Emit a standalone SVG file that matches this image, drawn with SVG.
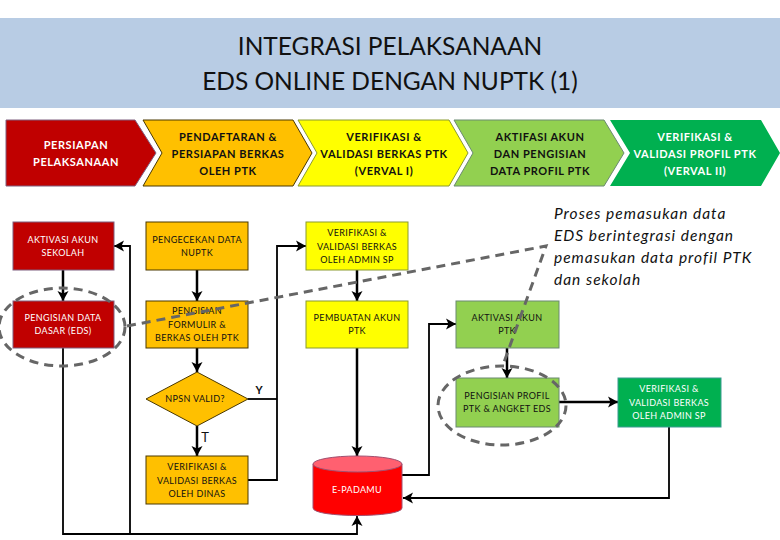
<svg xmlns="http://www.w3.org/2000/svg" width="780" height="540" viewBox="0 0 780 540">
<style>
text{font-family:Lato,"Liberation Sans",sans-serif;text-anchor:middle;fill:#111}
.h{font-size:11px;font-weight:700;letter-spacing:.55px}
.s{font-size:9px;letter-spacing:.35px}
.w{fill:#fff}
.r{fill:#c00000;stroke:#7f5f7f}
.o{fill:#ffc000;stroke:#4a3800}
.y{fill:#ffff00;stroke:#8a9a30}
.g{fill:#92d050;stroke:#6a8a70}
.e{fill:#00b050;stroke:#3a9a90}
.c{fill:none;stroke:#000;stroke-width:2.500}
.t{fill:none;stroke:#000;stroke-width:1.800}
.d{fill:none;stroke:#666;stroke-width:3;stroke-dasharray:9 6}
</style>
<defs>
<marker id="a" markerUnits="userSpaceOnUse" markerWidth="14" markerHeight="14" refX="10" refY="6" orient="auto"><path d="M0 0.500L10 6L0 11.500L2.500 6Z" fill="#000"/></marker>
</defs>
<rect id="banner" x="0" y="18" width="780" height="90" fill="#b8cce4"/>
<g id="title"><text x="390" y="55" style="font-size:24.500px">INTEGRASI PELAKSANAAN</text><text x="390" y="90" style="font-size:24.500px">EDS ONLINE DENGAN NUPTK (1)</text></g>
<g id="step1"><path class="r" d="M6 120H135L156 153L135 186H6Z"/><text class="h w" x="76" y="149">PERSIAPAN</text><text class="h w" x="76" y="166">PELAKSANAAN</text></g>
<g id="step2"><path class="o" d="M143 120H293L312 153L293 186H143L162 153Z"/><text class="h" x="228" y="141">PENDAFTARAN &amp;</text><text class="h" x="228" y="158">PERSIAPAN BERKAS</text><text class="h" x="228" y="175">OLEH PTK</text></g>
<g id="step3"><path class="y" d="M298 120H449L468 153L449 186H298L317 153Z"/><text class="h" x="384" y="141">VERIFIKASI &amp;</text><text class="h" x="384" y="158">VALIDASI BERKAS PTK</text><text class="h" x="384" y="175">(VERVAL I)</text></g>
<g id="step4"><path class="g" d="M454 120H604L624 153L604 186H454L473 153Z"/><text class="h" x="540" y="141">AKTIFASI AKUN</text><text class="h" x="540" y="158">DAN PENGISIAN</text><text class="h" x="540" y="175">DATA PROFIL PTK</text></g>
<g id="step5"><path d="M610 120H761L780 153L761 186H610L630 153Z" fill="#00b050"/><text class="h w" x="695" y="141">VERIFIKASI &amp;</text><text class="h w" x="695" y="158">VALIDASI PROFIL PTK</text><text class="h w" x="695" y="175">(VERVAL II)</text></g>
<g id="connectors">
<path class="c" d="M63 270V301" marker-end="url(#a)"/>
<path class="t" d="M63 348V534H357V516" marker-end="url(#a)"/>
<path class="t" d="M130 534V246H114" marker-end="url(#a)"/>
<path class="c" d="M197 270V301" marker-end="url(#a)"/>
<path class="c" d="M197 348V372" marker-end="url(#a)"/>
<path class="c" d="M197 426V456" marker-end="url(#a)"/>
<path class="t" d="M248 399H277"/>
<path class="t" d="M248 480H277V246H306" marker-end="url(#a)"/>
<path class="c" d="M357 270V301" marker-end="url(#a)"/>
<path class="c" d="M357 348V456" marker-end="url(#a)"/>
<path class="t" d="M402 475H429V324H456" marker-end="url(#a)"/>
<path class="c" d="M507 348V378" marker-end="url(#a)"/>
<path class="c" d="M559 402H618" marker-end="url(#a)"/>
<path class="t" d="M669 427V498H403" marker-end="url(#a)"/>
</g>
<g id="n1"><rect class="r" x="13" y="222" width="101" height="48"/><text class="s w" x="63" y="243">AKTIVASI AKUN</text><text class="s w" x="63" y="256">SEKOLAH</text></g>
<g id="n2"><rect class="r" x="13" y="301" width="101" height="47"/><text class="s w" x="63" y="321">PENGISIAN DATA</text><text class="s w" x="63" y="334">DASAR (EDS)</text></g>
<g id="n3"><rect class="o" x="146" y="222" width="102" height="48"/><text class="s" x="197" y="243">PENGECEKAN DATA</text><text class="s" x="197" y="256">NUPTK</text></g>
<g id="n4"><rect class="o" x="146" y="301" width="102" height="47"/><text class="s" x="197" y="314">PENGISIAN</text><text class="s" x="197" y="328">FORMULIR &amp;</text><text class="s" x="197" y="341">BERKAS OLEH PTK</text></g>
<g id="n5"><path class="o" d="M146 399L197 372L248 399L197 426Z"/><text class="s" x="195" y="402">NPSN VALID?</text></g>
<g id="n6"><rect class="o" x="146" y="456" width="102" height="48"/><text class="s" x="197" y="470">VERIFIKASI &amp;</text><text class="s" x="197" y="484">VALIDASI BERKAS</text><text class="s" x="197" y="497">OLEH DINAS</text></g>
<g id="n7"><rect class="y" x="306" y="222" width="102" height="48"/><text class="s" x="357" y="236">VERIFIKASI &amp;</text><text class="s" x="357" y="250">VALIDASI BERKAS</text><text class="s" x="357" y="263">OLEH ADMIN SP</text></g>
<g id="n8"><rect class="y" x="306" y="301" width="102" height="47"/><text class="s" x="357" y="321">PEMBUATAN AKUN</text><text class="s" x="357" y="334">PTK</text></g>
<g id="n9"><path d="M313 464V508C313 518 402 518 402 508V464Z" fill="#ff0000" stroke="#a05070"/><ellipse cx="357.500" cy="464" rx="44.500" ry="8" fill="#ff6070" stroke="#a05070"/><text class="s w" x="357" y="493">E-PADAMU</text></g>
<g id="n10"><rect class="g" x="456" y="301" width="103" height="47"/><text class="s" x="507" y="321">AKTIVASI AKUN</text><text class="s" x="507" y="334">PTK</text></g>
<g id="n11"><rect class="g" x="456" y="378" width="103" height="49"/><text class="s" x="507" y="399">PENGISIAN PROFIL</text><text class="s" x="507" y="412">PTK &amp; ANGKET EDS</text></g>
<g id="n12"><rect class="e" x="618" y="378" width="103" height="49"/><text class="s w" x="669" y="392">VERIFIKASI &amp;</text><text class="s w" x="669" y="406">VALIDASI BERKAS</text><text class="s w" x="669" y="419">OLEH ADMIN SP</text></g>
<g id="labels"><text x="259" y="394" style="font-size:11px;font-weight:700">Y</text><text x="205" y="442" style="font-size:13px">T</text>
<g style="font-size:15.500px;font-style:italic;letter-spacing:1px"><text x="554" y="219" style="text-anchor:start">Proses pemasukan data</text><text x="554" y="241" style="text-anchor:start">EDS berintegrasi dengan</text><text x="554" y="263" style="text-anchor:start">pemasukan data profil PTK</text><text x="554" y="285" style="text-anchor:start">dan sekolah</text></g></g>
<g id="callout"><ellipse class="d" cx="62" cy="327" rx="63" ry="39"/><ellipse class="d" cx="502" cy="405.500" rx="64" ry="39.500"/><path class="d" d="M127 326L546 246L503 365"/></g>
</svg>
